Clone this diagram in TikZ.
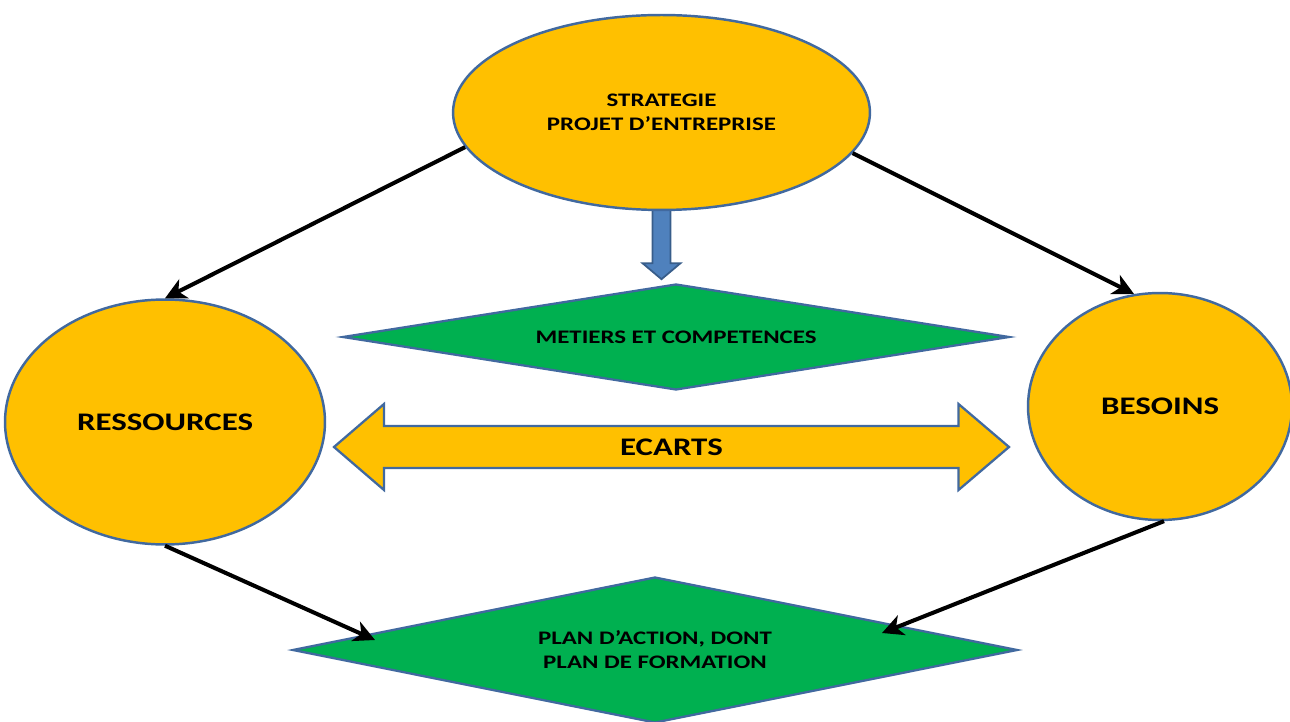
\documentclass[tikz,border=0pt]{standalone}
\usepackage{fontspec}
\newfontfamily\lbl{Carlito}[FakeStretch=1.3]
\usetikzlibrary{shapes.geometric,arrows.meta,calc,backgrounds}
\definecolor{gold}{HTML}{FFC000}
\definecolor{leaf}{HTML}{00B050}
\definecolor{edge}{HTML}{41699F}
\definecolor{steel}{HTML}{4F81BD}
\definecolor{steeldark}{HTML}{385D8A}

\tikzset{
  blob/.style={ellipse, fill=gold, draw=edge, line width=1.4pt, inner sep=0pt, align=center},
  diam/.style={diamond, fill=leaf, draw=edge, line width=1.3pt, inner sep=0pt, align=center},
  bigtxt/.style={font=\lbl\bfseries\fontsize{14.4}{16}\selectfont},
  smalltxt/.style={font=\lbl\bfseries\fontsize{10.9}{13.6}\selectfont},
  conn/.style={line width=2.3pt, -{Stealth[length=12pt,width=12pt,inset=3.5pt]}},
}

\begin{document}
\begin{tikzpicture}[x=0.02cm,y=-0.02cm]
  \useasboundingbox (0,0) rectangle (1290,722);

  % ovals
  \node[blob, smalltxt, minimum width=8.34cm, minimum height=3.9cm] (strat) at (661.5,112.5) {STRATEGIE\\PROJET D’ENTREPRISE};
  \node[blob, bigtxt, minimum width=6.4cm, minimum height=4.9cm] (res) at (165,422) {RESSOURCES};
  \node[blob, bigtxt, minimum width=5.28cm, minimum height=4.54cm] (bes) at (1160,406.5) {BESOINS};

  % diamonds
  \node[diam, smalltxt, shape aspect=6.3, minimum width=13.34cm, minimum height=2.12cm] (metiers) at (676,337) {METIERS ET COMPETENCES};
  \node[diam, smalltxt, shape aspect=5, minimum width=14.5cm, minimum height=2.92cm] (plan) at (655,650) {PLAN D’ACTION, DONT\\PLAN DE FORMATION};

  % double arrow
  \begin{scope}[shift={(671.5,447)}]
    \draw[fill=gold, draw=edge, line width=1.3pt] (-337.5,0) -- (-287.5,-43) -- (-287.5,-21) -- (287,-21) -- (287,-43)
      -- (337.5,0) -- (287,43) -- (287,21) -- (-287.5,21) -- (-287.5,43) -- cycle;
    \node[bigtxt] (ecarts) at (0,0) {ECARTS};
  \end{scope}

  % blue arrow
  \begin{scope}[on background layer]
    \draw[fill=steel, draw=steeldark, line width=1pt] ($(strat.south)+(-9,-6)$) -- ($(strat.south)+(9,-6)$)
      -- ($(strat.south)+(9,52)$) -- ($(strat.south)+(19,52)$) -- ($(strat.south)+(0,68)$)
      -- ($(strat.south)+(-19,52)$) -- ($(strat.south)+(-9,52)$) -- cycle;
  \end{scope}

  % connectors
  \draw[conn] (strat.190) -- (res.north);
  \draw[conn] (strat.-12) -- (bes.103);
  \draw[conn] (res.south) -- ($(plan.center)+(-280,-10)$);
  \draw[conn] (bes.272) -- ($(plan.center)+(227,-17)$);
\end{tikzpicture}
\end{document}
